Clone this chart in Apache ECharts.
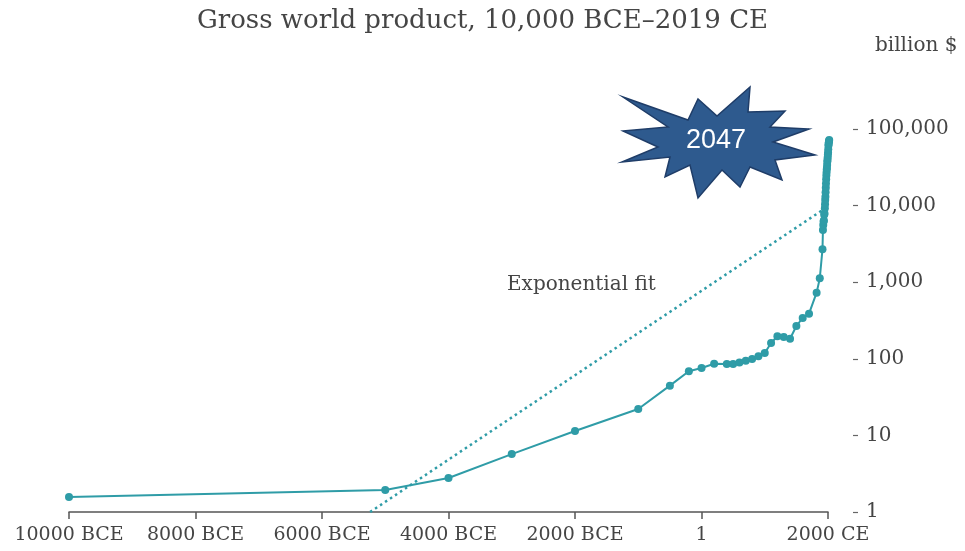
<!DOCTYPE html>
<html>
<head>
<meta charset="utf-8">
<script src="https://cdn.jsdelivr.net/npm/echarts@6/dist/echarts.min.js"></script>
<style>
  html, body { margin: 0; padding: 0; background: #fff; }
  #chart { width: 965px; height: 551px; }
</style>
</head>
<body>
<div id="chart"></div>
<script>
// years (negative = BCE) and gross world product, billion $
let years = [-10000, -5000, -4000, -3000, -2000, -1000, -500, -200, 1, 200, 400, 500, 600, 700, 800, 900, 1000,
    1100, 1200, 1300, 1400, 1500, 1600, 1700, 1820, 1870, 1913,
    1920, 1925, 1930, 1935, 1940, 1945, 1950, 1953, 1956, 1959, 1962, 1965, 1968, 1971, 1974, 1977,
    1980, 1983, 1986, 1989, 1992, 1995, 1998, 2001, 2004, 2007, 2010, 2013, 2016, 2019];
let gwp = [1.57, 1.94, 2.78, 5.7, 11.4, 22.1, 44.6, 68.7, 75.9, 86.3, 85.5, 85.5, 89.7, 94.6, 99.5, 108, 119,
    161, 197, 193, 183, 268, 341, 388, 730, 1123, 2700,
    4800, 5600, 6200, 6400, 7600, 7900, 9200, 10400, 11800, 13000, 14900, 17100, 19400, 22000, 24800, 27000,
    29600, 31000, 34000, 37500, 39500, 42300, 46000, 49500, 54500, 61000, 63500, 67000, 69500, 71800];
// exponential fit end points
let fitYears = [-5240, 2019];
let fitValues = [1, 10000];
let yTicks = [1, 10, 100, 1000, 10000, 100000];

let teal = '#2f9ca7';
let textColor = '#454545';
let serif = 'DejaVu Serif';

let myChart = echarts.init(document.getElementById('chart'));

function yearLabel(v) {
    if (v < 0) return (-v) + ' BCE';
    if (v === 0) return '1';
    return v + ' CE';
}

// star shape behind the "2047" tag
let starPoints = [
    [623, 97], [688, 120], [698, 99], [717, 116], [750, 87], [748, 112], [785, 111], [770, 127],
    [809, 129], [773, 142], [815, 155], [775, 160], [782, 180], [750, 167], [740, 187], [722, 170],
    [698, 198], [690, 165], [665, 177], [670, 157], [622, 162], [658, 147], [623, 131], [668, 127]
];

let option = {
    animation: false,
    title: {
        text: 'Gross world product, 10,000 BCE\u20132019 CE',
        left: 'center',
        top: 3,
        textStyle: { fontFamily: serif, fontSize: 26, fontWeight: 'normal', color: textColor }
    },
    grid: {
        left: 69,
        right: 137,
        top: 129,
        bottom: 39
    },
    xAxis: {
        type: 'value',
        min: -10000,
        max: 2000,
        interval: 2000,
        axisLine: { lineStyle: { color: '#555', width: 1.5 } },
        axisTick: { length: 7, lineStyle: { color: '#555', width: 1.5 } },
        splitLine: { show: false },
        axisLabel: {
            formatter: yearLabel,
            margin: 14,
            fontFamily: serif,
            fontSize: 19,
            color: textColor
        }
    },
    yAxis: {
        type: 'log',
        logBase: 10,
        min: yTicks[0],
        max: yTicks[yTicks.length - 1],
        position: 'right',
        offset: 25,
        name: 'billion $',
        nameLocation: 'end',
        nameGap: 83,
        nameTextStyle: {
            fontFamily: serif, fontSize: 20, color: textColor,
            align: 'left', verticalAlign: 'middle', padding: [0, 0, 0, 22]
        },
        axisLine: { show: false, onZero: false },
        axisTick: { show: true, length: 5, lineStyle: { color: '#666', width: 1.2 } },
        splitLine: { show: false },
        axisLabel: {
            margin: 13,
            fontFamily: serif,
            fontSize: 20,
            color: textColor,
            formatter: function (v) { return Math.round(v).toLocaleString('en-US'); }
        }
    },
    series: [
        {
            name: 'Exponential fit',
            type: 'line',
            data: fitYears.map((y, i) => [y, fitValues[i]]),
            symbol: 'none',
            lineStyle: { color: teal, width: 2.5, type: [2.5, 3.5] },
            z: 1
        },
        {
            name: 'GWP',
            type: 'line',
            data: years.map((y, i) => [y, gwp[i]]),
            clip: false,
            symbol: 'circle',
            symbolSize: 8,
            itemStyle: { color: teal },
            lineStyle: { color: teal, width: 2 },
            z: 3
        }
    ],
    graphic: [
        {
            type: 'text',
            left: 507,
            top: 275,
            style: { text: 'Exponential fit', fontFamily: serif, fontSize: 20, fill: textColor }
        },
        {
            type: 'polygon',
            shape: { points: starPoints },
            style: { fill: '#2e5a8e', stroke: '#1f3d68', lineWidth: 1.5 },
            z: 10
        },
        {
            type: 'text',
            x: 716,
            y: 141,
            style: {
                text: '2047', fontFamily: 'Liberation Sans', fontSize: 27, fill: '#fff',
                align: 'center', verticalAlign: 'middle'
            },
            z: 11
        }
    ]
};

myChart.setOption(option);
</script>
</body>
</html>
